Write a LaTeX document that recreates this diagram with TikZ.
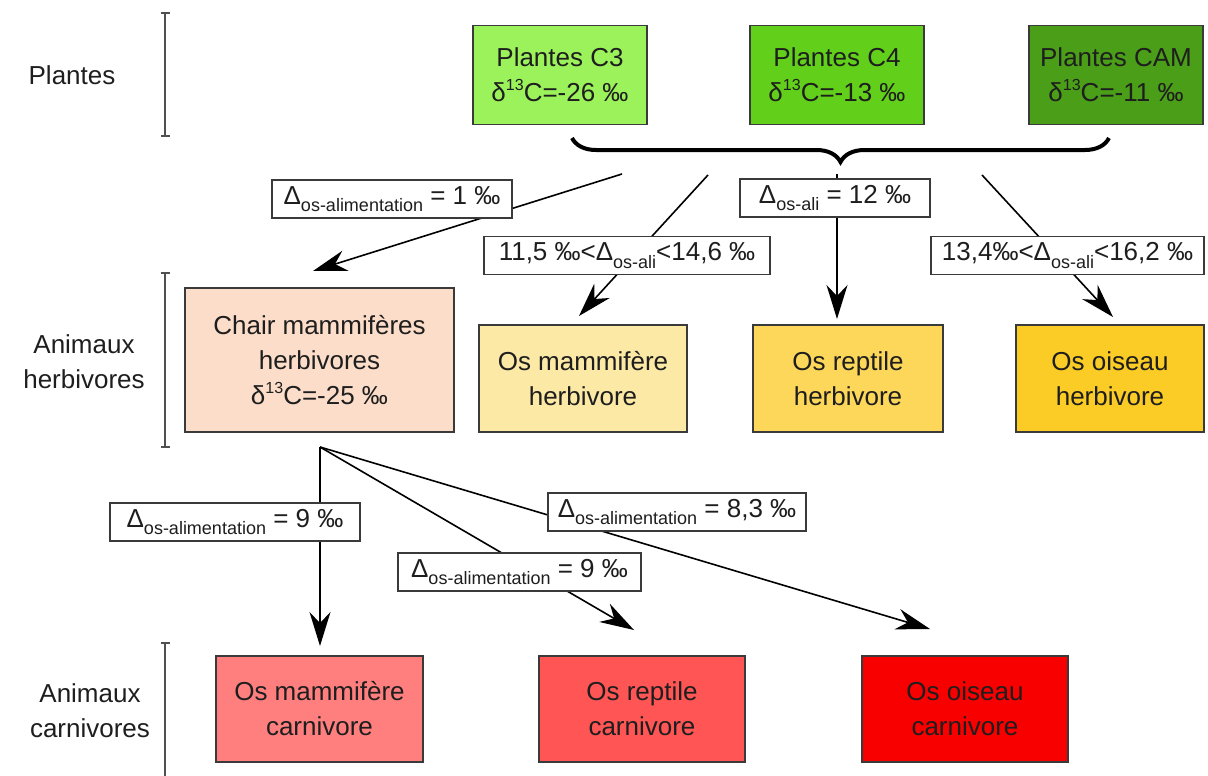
\documentclass[tikz,border=0pt]{standalone}
\usepackage{fontspec}
\setmainfont{Liberation Sans}
\usetikzlibrary{arrows.meta,decorations.pathreplacing}
\definecolor{cthree}{HTML}{9BF25A}
\definecolor{cfour}{HTML}{62D01A}
\definecolor{ccam}{HTML}{4A9E18}
\definecolor{cchair}{HTML}{FCDDC9}
\definecolor{hmam}{HTML}{FCE9A6}
\definecolor{hrep}{HTML}{FDD75A}
\definecolor{hois}{HTML}{FBCB26}
\definecolor{kmam}{HTML}{FF7F7F}
\definecolor{krep}{HTML}{FF5555}
\definecolor{kois}{HTML}{F80000}
\definecolor{bord}{HTML}{3A3A3A}
\definecolor{txt}{HTML}{1E1E1E}
\definecolor{barc}{HTML}{505050}
\newcommand{\myup}[1]{\raisebox{0.42em}{\fontsize{16}{16}\selectfont #1}}
\newcommand{\mydn}[1]{\raisebox{-0.30em}{\fontsize{18}{18}\selectfont #1}}
\begin{document}
\begin{tikzpicture}[x=1pt,y=-1pt,
  every node/.style={font=\fontsize{26}{35}\selectfont, text=txt},
  box/.style={draw=bord, line width=1.8pt, align=center, inner sep=0pt},
  lab/.style={draw=bord, fill=white, line width=1.6pt, inner sep=0pt, minimum height=38},
  arr/.style={line width=1.6pt, draw=black, -{Stealth[length=34pt,width=21pt,inset=11pt]}},
  bar/.style={draw=barc, line width=2pt}]
\useasboundingbox (0,0) rectangle (1208,776);

% side labels and bars
\node (lp) at (72,75) {Plantes};
\node[align=center] (lh) at (84,362) {Animaux\\herbivores};
\node[align=center] (lc) at (90,711) {Animaux\\carnivores};
\draw[bar, {Bar[width=9pt]}-{Bar[width=9pt]}] (165,12) -- (165,137);
\draw[bar, {Bar[width=9pt]}-{Bar[width=9pt]}] (165,272) -- (165,448);
\draw[bar, {Bar[width=9pt]}-] (165,642) -- (165,780);

% plants
\node[box, fill=cthree, minimum width=174, minimum height=99] (c3) at (560,75) {Plantes C3\\δ\myup{13}C=-26 ‰};
\node[box, fill=cfour, minimum width=174, minimum height=99] (c4) at (837,75) {Plantes C4\\δ\myup{13}C=-13 ‰};
\node[box, fill=ccam, minimum width=174, minimum height=99] (cam) at (1116,75) {Plantes CAM\\δ\myup{13}C=-11 ‰};

% brace
\draw[line width=4pt, decorate, decoration={brace, mirror, amplitude=24pt}] (572,138) -- (1109,138);

% herbivores
\node[box, fill=cchair, minimum width=269, minimum height=144] (chair) at (319.5,360) {Chair mammifères\\herbivores\\δ\myup{13}C=-25 ‰};
\node[box, fill=hmam, minimum width=208, minimum height=107] (hm) at (583,378.5) {Os mammifère\\herbivore};
\node[box, fill=hrep, minimum width=190, minimum height=107] (hr) at (848,378.5) {Os reptile\\herbivore};
\node[box, fill=hois, minimum width=188, minimum height=107] (ho) at (1110,378.5) {Os oiseau\\herbivore};

% carnivores
\node[box, fill=kmam, minimum width=207, minimum height=106] (km) at (319.5,709) {Os mammifère\\carnivore};
\node[box, fill=krep, minimum width=206, minimum height=106] (kr) at (642,709) {Os reptile\\carnivore};
\node[box, fill=kois, minimum width=206, minimum height=106] (ko) at (965,709) {Os oiseau\\carnivore};

% connector end points
\coordinate (s1) at (622,174);
\coordinate (t1) at (313,271);
\coordinate (s2) at (708,175);
\coordinate (t2) at (579,316);
\coordinate (s3) at (837,174);
\coordinate (t3) at (837,319);
\coordinate (s4) at (982,175);
\coordinate (t4) at (1113,317);
\coordinate (s5) at (320,447);
\coordinate (t5) at (320,646);
\coordinate (t6) at (634,630);
\coordinate (t7) at (930,629);

\draw[arr] (s1) -- (t1);
\draw[arr] (s2) -- (t2);
\draw[arr] (s3) -- (t3);
\draw[arr] (s4) -- (t4);
\draw[arr] (s5) -- (t5);
\draw[arr] (s5) -- (t6);
\draw[arr] (s5) -- (t7);

% labels
\node[lab, minimum width=240] (l1) at (392,199) {Δ\mydn{os-alimentation} = 1 ‰};
\node[lab, minimum width=286] (l2) at (627,255.5) {11,5 ‰<Δ\mydn{os-ali}<14,6 ‰};
\node[lab, minimum width=190] (l3) at (835,198) {Δ\mydn{os-ali} = 12 ‰};
\node[lab, minimum width=273] (l4) at (1067.5,255.5) {13,4‰<Δ\mydn{os-ali}<16,2 ‰};
\node[lab, minimum width=250] (l5) at (235,522) {Δ\mydn{os-alimentation} = 9 ‰};
\node[lab, minimum width=243] (l6) at (519.5,572) {Δ\mydn{os-alimentation} = 9 ‰};
\node[lab, minimum width=258] (l7) at (677,512) {Δ\mydn{os-alimentation} = 8,3 ‰};
\end{tikzpicture}
\end{document}
